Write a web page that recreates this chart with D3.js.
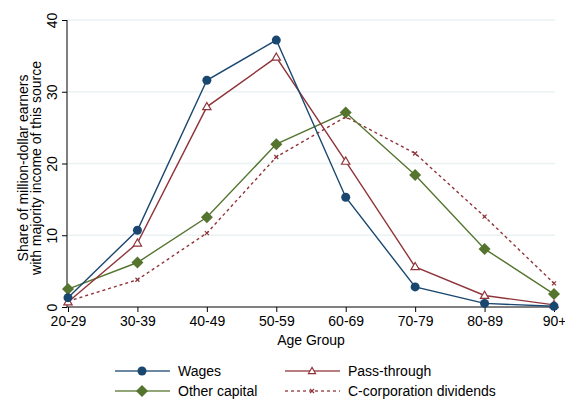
<!DOCTYPE html>
<html><head><meta charset="utf-8">
<script src="https://cdn.jsdelivr.net/npm/d3@7"></script>
<style>body{margin:0;background:#fff}svg{display:block;font-family:"Liberation Sans",Arial,sans-serif}</style>
</head><body><svg id="c" width="565" height="400"></svg>
<script>
const categories = ["20-29","30-39","40-49","50-59","60-69","70-79","80-89","90+"];
const wages = [1.3, 10.7, 31.6, 37.2, 15.3, 2.8, 0.5, 0.1];
const passThrough = [0.7, 8.9, 27.9, 34.8, 20.3, 5.6, 1.6, 0.3];
const otherCapital = [2.5, 6.2, 12.5, 22.7, 27.1, 18.4, 8.1, 1.8];
const cCorpDividends = [0.8, 3.8, 10.3, 20.9, 26.5, 21.4, 12.6, 3.3];
const yTicks = [0, 10, 20, 30, 40];

const series = [
  {name:"Wages", values:wages, color:"#1a476f", marker:"circle", dash:null},
  {name:"Pass-through", values:passThrough, color:"#90353b", marker:"triangle", dash:null},
  {name:"Other capital", values:otherCapital, color:"#55752f", marker:"diamond", dash:null},
  {name:"C-corporation dividends", values:cCorpDividends, color:"#90353b", marker:"x", dash:"3,3"}
];

const FS = 14;
const svg = d3.select("#c");
const x = d3.scalePoint().domain(categories).range([68, 554]);
const y = d3.scaleLinear().domain([0, 40]).range([307, 20]);

// gridlines
svg.append("g").selectAll("line").data(yTicks.filter(d=>d>0)).join("line")
  .attr("x1", 68).attr("x2", 555).attr("y1", d=>y(d)).attr("y2", d=>y(d))
  .attr("stroke", "#eaf2f3").attr("stroke-width", 1.5);

// axes
const yAxis = svg.append("g").attr("transform","translate(67,0)")
  .call(d3.axisLeft(y).tickValues(yTicks).tickSize(5).tickPadding(4));
yAxis.select(".domain").attr("stroke","#000").attr("d","M0,"+y(40)+"V"+y(0));
yAxis.selectAll(".tick text").attr("font-size",FS).attr("fill","#000")
  .attr("transform","rotate(-90)").attr("text-anchor","middle").attr("x",0).attr("y",-10).attr("dy","0");

const xAxis = svg.append("g").attr("transform","translate(0,307)")
  .call(d3.axisBottom(x).tickSize(5).tickPadding(4));
xAxis.select(".domain").attr("stroke","#000").attr("d","M67,0H555");
xAxis.selectAll(".tick text").attr("font-size",FS).attr("fill","#000");

svg.append("text").attr("x",311).attr("y",345).attr("text-anchor","middle")
  .attr("font-size",FS).text("Age Group");
const yl = svg.append("text").attr("transform","translate(0,168) rotate(-90)")
  .attr("text-anchor","middle").attr("font-size",FS);
yl.append("tspan").attr("x",0).attr("y",28).text("Share of million-dollar earners");
yl.append("tspan").attr("x",0).attr("y",41).text("with majority income of this source");

function drawMarker(g, type, color, cx, cy, small){
  if(type==="circle") g.append("circle").attr("cx",cx).attr("cy",cy).attr("r",4.5).attr("fill",color);
  else if(type==="triangle") g.append("path").attr("d",d3.symbol(d3.symbolTriangle,small?22:30)()).attr("transform",`translate(${cx},${cy+0.5})`).attr("fill","#fff").attr("stroke",color).attr("stroke-width",1.2);
  else if(type==="diamond") g.append("path").attr("d","M0,-6L6,0L0,6L-6,0Z").attr("transform",`translate(${cx},${cy})`).attr("fill",color);
  else if(type==="x") g.append("path").attr("d","M-2,-2L2,2M-2,2L2,-2").attr("transform",`translate(${cx},${cy})`).attr("stroke",color).attr("stroke-width",1.2);
}

const line = d3.line().x((d,i)=>x(categories[i])).y(d=>y(d));
[...series].reverse().forEach(s=>{
  const g = svg.append("g");
  g.append("path").attr("d", line(s.values)).attr("fill","none").attr("stroke",s.color)
    .attr("stroke-width",1.4).attr("stroke-dasharray",s.dash);
  s.values.forEach((v,i)=>drawMarker(g, s.marker, s.color, x(categories[i]), y(v)));
});

// legend
const legPos = [[115,371],[285,371],[115,391],[285,391]];
series.forEach((s,i)=>{
  const [lx,ly] = legPos[i];
  const g = svg.append("g");
  g.append("line").attr("x1",lx).attr("x2",lx+55).attr("y1",ly).attr("y2",ly)
    .attr("stroke",s.color).attr("stroke-width",1.3).attr("stroke-dasharray",s.dash).attr("opacity",0.85);
  drawMarker(g, s.marker, s.color, lx+27, ly, true);
  g.append("text").attr("x",lx+63).attr("y",ly+5).attr("font-size",FS).text(s.name);
});
</script></body></html>
